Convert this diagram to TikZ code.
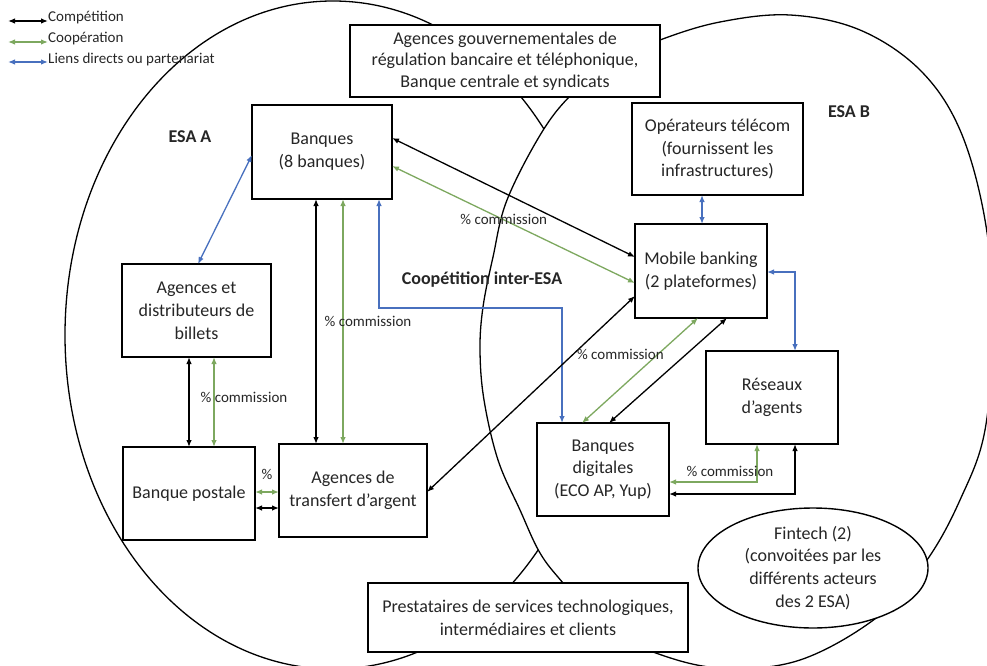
\documentclass[tikz,border=0pt]{standalone}
\usepackage{fontspec}
\setmainfont{Carlito}
\usetikzlibrary{arrows.meta,shapes.geometric,calc}
\definecolor{coopgreen}{RGB}{125,168,95}
\definecolor{lienblue}{RGB}{72,112,190}
\definecolor{txt}{RGB}{38,38,38}
\begin{document}
\begin{tikzpicture}[x=1pt,y=-1pt,
  box/.style={draw=black, line width=1.4pt, fill=white, rectangle, inner sep=0pt, outer sep=0pt,
    align=center, text=txt, font=\fontsize{18}{22.8}\selectfont},
  dbl/.style={{Latex[length=7pt,width=5.5pt]}-{Latex[length=7pt,width=5.5pt]}},
  comp/.style={dbl, draw=black, line width=1.3pt},
  coop/.style={dbl, draw=coopgreen, line width=1.3pt},
  lien/.style={dbl, draw=lienblue, line width=1.3pt},
  lbl/.style={font=\fontsize{15}{18}\selectfont, text=txt, inner sep=0pt},
  legtext/.style={font=\fontsize{15}{18}\selectfont, text=txt, inner sep=0pt, anchor=west},
  esa/.style={font=\fontsize{18}{22}\selectfont\bfseries, text=txt, inner sep=0pt},
  ring/.style={draw=black, line width=1.3pt}
]
\useasboundingbox (0,0) rectangle (987,666);

% ESA A (drawn first, partly hidden by ESA B)
\draw[ring] (333,335) ellipse [x radius=268pt, y radius=334pt];
% ESA B (white-filled, on top)
\draw[ring, fill=white] plot[smooth cycle, tension=0.6] coordinates {
  (573,93) (612,62) (660,40) (720,22) (790,15) (860,30) (920,70) (960,130)
  (985,220) (993,320) (985,430) (960,500) (927,560) (880,615) (800,660)
  (720,668) (653,652) (600,625) (563,583) (540,553) (520,510) (498,460)
  (484,400) (480,350) (483,307) (493,257) (507,200) (542,132)};

% Legend
\node[legtext] (lg1) at (48,18) {Compétition};
\node[legtext] (lg2) at (48,39) {Coopération};
\node[legtext] (lg3) at (48,60) {Liens directs ou partenariat};
\coordinate (la1) at (8,21);
\coordinate (la2) at (8,42);
\coordinate (la3) at (8,62);
\draw[comp] (la1) -- (la1 -| lg1.west);
\draw[coop] (la2) -- (la2 -| lg2.west);
\draw[lien] (la3) -- (la3 -| lg3.west);

% Region labels
\node[esa] (esaA) at (190,137) {ESA A};
\node[esa] (esaB) at (849,112) {ESA B};
\node[esa] (coopet) at (482,280) {Coopétition inter-ESA};

% Boxes
\node[box, minimum width=310pt, minimum height=72pt, font=\fontsize{18}{21.5}\selectfont] (gov) at (505,61)
  {Agences gouvernementales de\\régulation bancaire et téléphonique,\\Banque centrale et syndicats};
\node[box, minimum width=140pt, minimum height=94pt] (banques) at (322,152) {Banques\\(8 banques)};
\node[box, minimum width=171pt, minimum height=92pt] (oper) at (717.5,149)
  {Opérateurs télécom\\(fournissent les\\infrastructures)};
\node[box, minimum width=132pt, minimum height=94pt] (mobile) at (701,271) {Mobile banking\\(2 plateformes)};
\node[box, minimum width=149pt, minimum height=93pt] (agdist) at (196.5,310.5)
  {Agences et\\distributeurs de\\billets};
\node[box, minimum width=132pt, minimum height=93pt] (postale) at (189,493.5) {Banque postale};
\node[box, minimum width=148pt, minimum height=93pt] (transfert) at (353,490.5)
  {Agences de\\transfert d’argent};
\node[box, minimum width=132pt, minimum height=93pt] (digit) at (603,469.5)
  {Banques\\digitales\\(ECO AP, Yup)};
\node[box, minimum width=132pt, minimum height=93pt] (reseaux) at (772,397.5) {Réseaux\\d’agents};
\node[box, minimum width=320pt, minimum height=69pt] (prest) at (528,617.5)
  {Prestataires de services technologiques,\\intermédiaires et clients};
\node[box, ellipse, minimum width=230pt, minimum height=120pt] (fintech) at (813,568)
  {Fintech (2)\\(convoitées par les\\différents acteurs\\des  2 ESA)};

% Connectors
\draw[lien] ([xshift=1.5pt]agdist.north) -- ([yshift=-3pt]banques.west);
\draw[comp] ([yshift=14pt]banques.east) -- ([yshift=14pt]mobile.west);
\draw[coop] ([yshift=-14pt]banques.east) -- ([yshift=-12pt]mobile.west)
  node[lbl, pos=0.46] {\% commission};
\draw[comp] ([xshift=-6pt]banques.south) -- ([xshift=-6pt]banques.south |- transfert.north);
\draw[coop] ([xshift=21pt]banques.south) -- ([xshift=21pt]banques.south |- transfert.north)
  node[lbl, pos=0.5, xshift=25pt] {\% commission};
\draw[lien] ([xshift=57pt]banques.south) -- ++(0,109) -| ([xshift=-41pt]digit.north);
\draw[comp] ([xshift=-7.5pt]agdist.south) -- ([xshift=-7.5pt]agdist.south |- postale.north);
\draw[coop] ([xshift=17.5pt]agdist.south) -- ([xshift=17.5pt]agdist.south |- postale.north)
  node[lbl, pos=0.45, xshift=30pt] {\% commission};
\draw[coop] ([yshift=1.5pt]postale.east) -- ([yshift=1.5pt]postale.east -| transfert.west)
  node[lbl, pos=0.5, yshift=18pt] {\%};
\draw[comp] ([yshift=-14.5pt]postale.east) -- ([yshift=-14.5pt]postale.east -| transfert.west);
\draw[comp] ([yshift=-1.5pt]transfert.east) -- ([yshift=-25pt]mobile.west);
\draw[coop] ([xshift=-3pt]mobile.south) -- ([xshift=-21pt]digit.north)
  node[lbl, pos=0.35, xshift=-37pt] {\% commission};
\draw[comp] ([xshift=26pt]mobile.south) -- ([xshift=6pt]digit.north);
\draw[lien] ([xshift=-15.5pt]oper.south) -- ([xshift=-15.5pt]oper.south |- mobile.north);
\draw[lien] ([yshift=-1pt]mobile.east) -| ([xshift=23pt]reseaux.north);
\draw[coop] ([xshift=-15pt]reseaux.south) |- ([yshift=-12.5pt]digit.east)
  node[lbl, pos=0.5, xshift=-27pt, yshift=11pt] {\% commission};
\draw[comp] ([xshift=23pt]reseaux.south) |- ([yshift=-24.5pt]digit.east);
\end{tikzpicture}
\end{document}
